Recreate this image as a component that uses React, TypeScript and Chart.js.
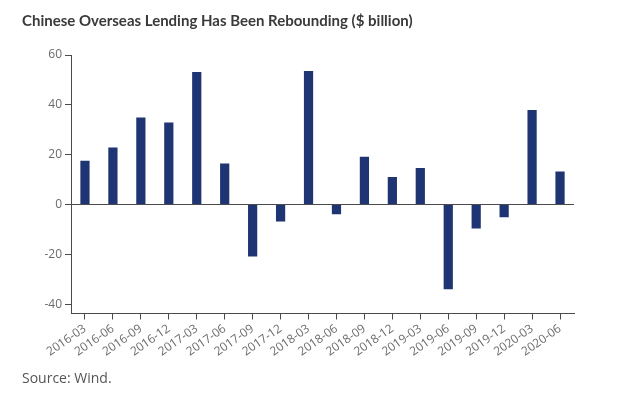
import React, { useEffect, useRef } from "react";
import { Chart, registerables } from "chart.js";

Chart.register(...registerables);

const categories = [
  "2016-03", "2016-06", "2016-09", "2016-12", "2017-03", "2017-06",
  "2017-09", "2017-12", "2018-03", "2018-06", "2018-09", "2018-12",
  "2019-03", "2019-06", "2019-09", "2019-12", "2020-03", "2020-06",
];
const lending = [
  17.6, 22.9, 34.9, 32.9, 53.2, 16.5,
  -20.8, -6.8, 53.6, -3.9, 19.2, 11.1,
  14.7, -34.0, -9.6, -5.1, 37.9, 13.3,
];
const yTicks = [-40, -20, 0, 20, 40, 60];

const title = "Chinese Overseas Lending Has Been Rebounding ($ billion)";
const source = "Source: Wind.";

export default function App() {
  const ref = useRef<HTMLCanvasElement>(null);
  useEffect(() => {
    if (!ref.current) return;
    const axisColor = "#4a4a4a";
    const chart = new Chart(ref.current, {
      type: "bar",
      data: {
        labels: categories,
        datasets: [
          {
            data: lending,
            backgroundColor: "#1f3573",
            barPercentage: 0.33,
            categoryPercentage: 1,
          },
        ],
      },
      options: {
        animation: false,
        responsive: false,
        maintainAspectRatio: false,
        layout: { padding: { left: 0, right: 46, top: 55, bottom: 0 } },
        plugins: {
          legend: { display: false },
          tooltip: { enabled: false },
          title: { display: false },
        },
        scales: {
          x: {
            offset: true,
            border: { display: true, color: axisColor, width: 1 },
            grid: {
              offset: false,
              drawOnChartArea: false,
              drawTicks: true,
              tickLength: 6,
              tickColor: axisColor,
            },
            ticks: {
              minRotation: 35,
              maxRotation: 35,
              autoSkip: false,
              color: "#6b6b6b",
              padding: 2,
              font: { family: "'Open Sans', sans-serif", size: 12 },
            },
            afterFit: (scale: any) => {
              scale.height = 82.5;
            },
          },
          y: {
            min: -43.7,
            max: 60,
            border: { display: true, color: axisColor, width: 1 },
            grid: {
              drawOnChartArea: true,
              color: (ctx: any) =>
                ctx.tick && ctx.tick.value === 0 ? "#4a4a4a" : "rgba(0,0,0,0)",
              tickColor: axisColor,
              tickLength: 6,
              lineWidth: 1,
            },
            ticks: {
              color: "#6b6b6b",
              padding: 3,
              font: { family: "'Open Sans', sans-serif", size: 12 },
            },
            afterBuildTicks: (scale: any) => {
              scale.ticks = yTicks.map((v) => ({ value: v }));
            },
            afterFit: (scale: any) => {
              scale.width = 71;
            },
          },
        },
      },
    });
    return () => chart.destroy();
  }, []);

  return (
    <div
      style={{
        position: "fixed",
        left: 0,
        top: 0,
        width: 620,
        height: 396,
        background: "#ffffff",
      }}
    >
      <canvas
        ref={ref}
        width={620}
        height={396}
        style={{ position: "absolute", left: 0, top: 0, width: 620, height: 396 }}
      />
      <div
        style={{
          position: "absolute",
          left: 22,
          top: 10,
          fontFamily: "Lato, sans-serif",
          fontWeight: 700,
          fontSize: 15,
          color: "#3a3a3a",
          whiteSpace: "nowrap",
          lineHeight: "20px",
        }}
      >
        {title}
      </div>
      <div
        style={{
          position: "absolute",
          left: 22,
          top: 368,
          fontFamily: "'Open Sans', sans-serif",
          fontSize: 14,
          color: "#555555",
          whiteSpace: "nowrap",
          lineHeight: "20px",
        }}
      >
        {source}
      </div>
    </div>
  );
}
